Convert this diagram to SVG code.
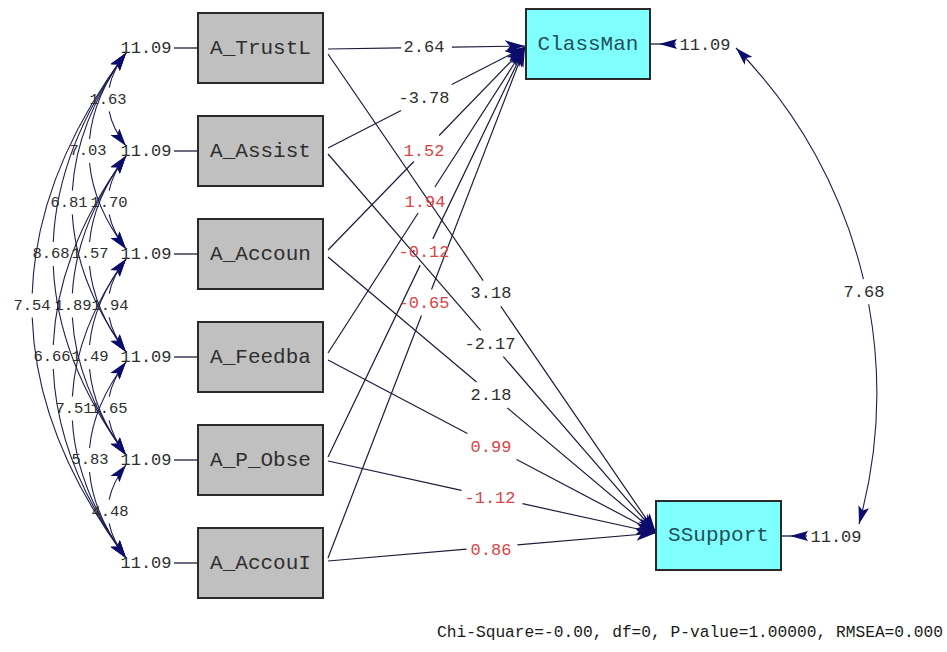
<svg xmlns="http://www.w3.org/2000/svg" width="947" height="652" viewBox="0 0 947 652">
  <style>
    .bx { fill: #c0c0c0; stroke: #2a2a2a; stroke-width: 2; }
    .by { fill: #80ffff; stroke: #2a2a2a; stroke-width: 2; }
    .name { font-family: "Liberation Mono", "Courier New", monospace; font-size: 21px; fill: #2e2e2e; text-anchor: middle; dominant-baseline: central; }
    .namey { fill: #245058; }
    .num { font-family: "Liberation Mono", "Courier New", monospace; font-size: 17px; text-anchor: middle; dominant-baseline: central; fill: #2e2e2e; }
    .cnum { font-size: 15.5px; }
    .red { fill: #d84545; }
    .path { fill: none; stroke: #1c1c3c; stroke-width: 1.2; }
    .cov { fill: none; stroke: #1c1c50; stroke-width: 1.1; }
    .tick { fill: none; stroke: #1c1c3c; stroke-width: 1.3; }
    .head { fill: #0c0c6c; }
    .fit { font-family: "Liberation Mono", "Courier New", monospace; font-size: 16.3px; fill: #1a1a1a; }
  </style>
  <defs>
    <marker id="arrow" markerUnits="userSpaceOnUse" markerWidth="20" markerHeight="13" viewBox="0 0 20 13" refX="20" refY="6.5" orient="auto">
      <path d="M0,0.5 L20,6.5 L0,12.5 L5,6.5 z" fill="#0c0c6c"/>
    </marker>
    <marker id="carrow" markerUnits="userSpaceOnUse" markerWidth="18" markerHeight="11" viewBox="0 0 18 11" refX="18" refY="5.5" orient="auto-start-reverse">
      <path d="M0,0 L18,5.5 L0,11 L4,5.5 z" fill="#0c0c6c"/>
    </marker>
  </defs>

  <!-- connectors -->
  <g id="connectors">
    <!-- exogenous variances -->
    <g id="variance-ticks">
      <line class="tick" x1="174" y1="48" x2="198" y2="48"/>
      <line class="tick" x1="174" y1="151" x2="198" y2="151"/>
      <line class="tick" x1="174" y1="254" x2="198" y2="254"/>
      <line class="tick" x1="174" y1="357" x2="198" y2="357"/>
      <line class="tick" x1="174" y1="460" x2="198" y2="460"/>
      <line class="tick" x1="174" y1="563" x2="198" y2="563"/>
    </g>

    <!-- covariances among exogenous variables -->
    <g id="covariances">
      <path class="cov" pathLength="100" stroke-dasharray="38.25 23.5 38.25" marker-start="url(#carrow)" marker-end="url(#carrow)" d="M126,53 Q90,99.5 126,146"/>
      <path class="cov" pathLength="100" stroke-dasharray="38.25 23.5 38.25" marker-start="url(#carrow)" marker-end="url(#carrow)" d="M126,156 Q90,202.5 126,249"/>
      <path class="cov" pathLength="100" stroke-dasharray="38.25 23.5 38.25" marker-start="url(#carrow)" marker-end="url(#carrow)" d="M126,259 Q90,305.5 126,352"/>
      <path class="cov" pathLength="100" stroke-dasharray="38.25 23.5 38.25" marker-start="url(#carrow)" marker-end="url(#carrow)" d="M126,362 Q90,408.5 126,455"/>
      <path class="cov" pathLength="100" stroke-dasharray="38.25 23.5 38.25" marker-start="url(#carrow)" marker-end="url(#carrow)" d="M126,465 Q90,511.5 126,558"/>
      <path class="cov" pathLength="100" stroke-dasharray="44.4 11.2 44.4" marker-start="url(#carrow)" marker-end="url(#carrow)" d="M126,53 Q52,151 126,249"/>
      <path class="cov" pathLength="100" stroke-dasharray="44.4 11.2 44.4" marker-start="url(#carrow)" marker-end="url(#carrow)" d="M126,156 Q52,254 126,352"/>
      <path class="cov" pathLength="100" stroke-dasharray="44.4 11.2 44.4" marker-start="url(#carrow)" marker-end="url(#carrow)" d="M126,259 Q52,357 126,455"/>
      <path class="cov" pathLength="100" stroke-dasharray="44.4 11.2 44.4" marker-start="url(#carrow)" marker-end="url(#carrow)" d="M126,362 Q52,460 126,558"/>
      <path class="cov" pathLength="100" stroke-dasharray="46.3 7.4 46.3" marker-start="url(#carrow)" marker-end="url(#carrow)" d="M126,53 Q18,202.5 126,352"/>
      <path class="cov" pathLength="100" stroke-dasharray="46.3 7.4 46.3" marker-start="url(#carrow)" marker-end="url(#carrow)" d="M126,156 Q18,305.5 126,455"/>
      <path class="cov" pathLength="100" stroke-dasharray="46.3 7.4 46.3" marker-start="url(#carrow)" marker-end="url(#carrow)" d="M126,259 Q18,408.5 126,558"/>
      <path class="cov" pathLength="100" stroke-dasharray="47.25 5.5 47.25" marker-start="url(#carrow)" marker-end="url(#carrow)" d="M126,53 Q-20,254 126,455"/>
      <path class="cov" pathLength="100" stroke-dasharray="47.25 5.5 47.25" marker-start="url(#carrow)" marker-end="url(#carrow)" d="M126,156 Q-20,357 126,558"/>
      <path class="cov" pathLength="100" stroke-dasharray="47.8 4.4 47.8" marker-start="url(#carrow)" marker-end="url(#carrow)" d="M126,53 Q-62,305.5 126,558"/>
    </g>

    <!-- structural paths to ClassMan -->
    <g id="paths-classman">
      <path class="path" pathLength="100" stroke-dasharray="37.1 25.8 37.1" marker-end="url(#arrow)" d="M328,49 L525,46"/>
      <path class="path" pathLength="100" stroke-dasharray="37.1 25.7 37.1" marker-end="url(#arrow)" d="M328,148 L525,47"/>
      <path class="path" pathLength="100" stroke-dasharray="43.6 12.8 43.6" marker-end="url(#arrow)" d="M328,250 L525,47"/>
      <path class="path" pathLength="100" stroke-dasharray="45.75 8.5 45.75" marker-end="url(#arrow)" d="M328,353 L525,47"/>
      <path class="path" pathLength="100" stroke-dasharray="46.8 6.4 46.8" marker-end="url(#arrow)" d="M328,457 L525,47"/>
      <path class="path" pathLength="100" stroke-dasharray="47.45 5.1 47.45" marker-end="url(#arrow)" d="M328,558 L525,47"/>
    </g>

    <!-- structural paths to SSupport -->
    <g id="paths-ssupport">
      <path class="path" pathLength="100" stroke-dasharray="47.3 5.4 47.3" marker-end="url(#arrow)" d="M328,54 L656,533"/>
      <path class="path" pathLength="100" stroke-dasharray="46.55 6.9 46.55" marker-end="url(#arrow)" d="M328,154 L656,533"/>
      <path class="path" pathLength="100" stroke-dasharray="45.3 9.4 45.3" marker-end="url(#arrow)" d="M328,257 L656,533"/>
      <path class="path" pathLength="100" stroke-dasharray="42.5 15 42.5" marker-end="url(#arrow)" d="M328,360 L656,533"/>
      <path class="path" pathLength="100" stroke-dasharray="40.7 18.6 40.7" marker-end="url(#arrow)" d="M328,461 L656,533"/>
      <path class="path" pathLength="100" stroke-dasharray="42.25 15.5 42.25" marker-end="url(#arrow)" d="M328,561 L656,533"/>
    </g>

    <!-- endogenous error variances -->
    <g id="errors">
      <line class="tick" x1="651" y1="44" x2="676" y2="44"/>
      <path class="head" d="M659,44 L677,39 L674,44 L677,49 z"/>
      <line class="tick" x1="782" y1="536" x2="807" y2="536"/>
      <path class="head" d="M790,536 L808,531 L805,536 L808,541 z"/>
    </g>

    <!-- covariance between the endogenous errors -->
    <path class="cov" pathLength="100" stroke-dasharray="51.9 5 43.1" marker-start="url(#carrow)" marker-end="url(#carrow)" d="M736,48 A493,493 0 0 1 859,524"/>
  </g>

  <!-- connector labels -->
  <g id="labels">
    <text class="num cnum" x="108" y="99.5">1.63</text>
    <text class="num cnum" x="109" y="202.5">1.70</text>
    <text class="num cnum" x="110" y="305.5">1.94</text>
    <text class="num cnum" x="109" y="408.5">1.65</text>
    <text class="num cnum" x="110" y="511.5">4.48</text>
    <text class="num cnum" x="88" y="151">7.03</text>
    <text class="num cnum" x="90" y="254">1.57</text>
    <text class="num cnum" x="90" y="357">1.49</text>
    <text class="num cnum" x="90" y="460">5.83</text>
    <text class="num cnum" x="69" y="202.5">6.81</text>
    <text class="num cnum" x="73" y="305.5">1.89</text>
    <text class="num cnum" x="74" y="408.5">7.51</text>
    <text class="num cnum" x="51" y="254">8.68</text>
    <text class="num cnum" x="52" y="357">6.66</text>
    <text class="num cnum" x="32" y="305.5">7.54</text>

    <text class="num" x="424" y="47">2.64</text>
    <text class="num" x="424" y="98">-3.78</text>
    <text class="num red" x="424" y="151">1.52</text>
    <text class="num red" x="425" y="202">1.94</text>
    <text class="num red" x="424" y="252">-0.12</text>
    <text class="num red" x="424" y="303">-0.65</text>

    <text class="num" x="491" y="293">3.18</text>
    <text class="num" x="490" y="344">-2.17</text>
    <text class="num" x="491" y="395">2.18</text>
    <text class="num red" x="491" y="447">0.99</text>
    <text class="num red" x="490" y="498">-1.12</text>
    <text class="num red" x="491" y="550">0.86</text>

    <text class="num" x="864" y="292">7.68</text>
  </g>

  <!-- exogenous variables -->
  <g id="A_TrustL">
    <rect class="bx" x="198" y="13" width="125" height="70"/>
    <text class="name" x="260.5" y="48">A_TrustL</text>
    <text class="num" x="146" y="48">11.09</text>
  </g>
  <g id="A_Assist">
    <rect class="bx" x="198" y="116" width="125" height="70"/>
    <text class="name" x="260.5" y="151">A_Assist</text>
    <text class="num" x="146" y="151">11.09</text>
  </g>
  <g id="A_Accoun">
    <rect class="bx" x="198" y="219" width="125" height="70"/>
    <text class="name" x="260.5" y="254">A_Accoun</text>
    <text class="num" x="146" y="254">11.09</text>
  </g>
  <g id="A_Feedba">
    <rect class="bx" x="198" y="322" width="125" height="70"/>
    <text class="name" x="260.5" y="357">A_Feedba</text>
    <text class="num" x="146" y="357">11.09</text>
  </g>
  <g id="A_P_Obse">
    <rect class="bx" x="198" y="425" width="125" height="70"/>
    <text class="name" x="260.5" y="460">A_P_Obse</text>
    <text class="num" x="146" y="460">11.09</text>
  </g>
  <g id="A_AccouI">
    <rect class="bx" x="198" y="528" width="125" height="70"/>
    <text class="name" x="260.5" y="563">A_AccouI</text>
    <text class="num" x="146" y="563">11.09</text>
  </g>

  <!-- endogenous variables -->
  <g id="ClassMan">
    <rect class="by" x="526" y="9" width="124" height="70"/>
    <text class="name namey" x="588" y="44">ClassMan</text>
    <text class="num" x="705" y="45">11.09</text>
  </g>
  <g id="SSupport">
    <rect class="by" x="656" y="501" width="125" height="69"/>
    <text class="name namey" x="718.5" y="535.5">SSupport</text>
    <text class="num" x="836" y="537">11.09</text>
  </g>

  <!-- fit statistics -->
  <text class="fit" x="437" y="637" textLength="506" lengthAdjust="spacingAndGlyphs">Chi-Square=-0.00, df=0, P-value=1.00000, RMSEA=0.000</text>
</svg>
